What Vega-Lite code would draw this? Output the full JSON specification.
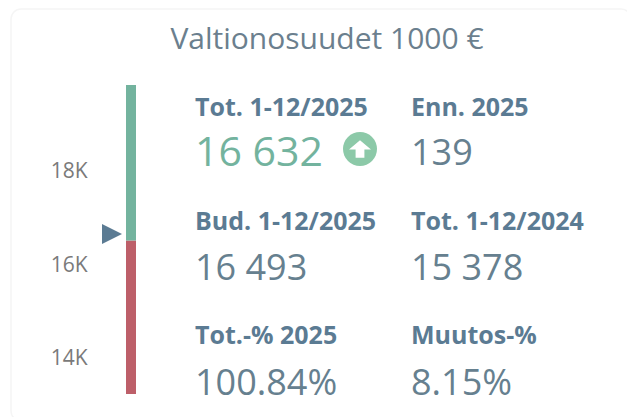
{"$schema":"https://vega.github.io/schema/vega-lite/v6.json","width":620,"height":412,"autosize":"none","padding":{"left":11,"top":9,"right":0,"bottom":0},"background":"white","view":{"stroke":"#f5f5f5","strokeWidth":1.5,"cornerRadius":10,"fill":"white"},"title":{"text":"Valtionosuudet 1000 €","anchor":"middle","font":"Open Sans","fontSize":30,"fontWeight":"normal","color":"#6b7f8e","dy":76,"dx":6,"offset":0,"baseline":"bottom"},"datasets":{"gauge":[{"band":"below","track":"bar","from":13209,"to":16493},{"band":"above","track":"bar","from":16493,"to":19818}],"marker":[{"track":"marker","total":16632}],"kpi":[{"label":"Tot. 1-12/2025","value":"16 632","col":"left","row":"r1","status":"good"},{"label":"Enn. 2025","value":"139","col":"right","row":"r1","status":"plain"},{"label":"Bud. 1-12/2025","value":"16 493","col":"left","row":"r2","status":"plain"},{"label":"Tot. 1-12/2024","value":"15 378","col":"right","row":"r2","status":"plain"},{"label":"Tot.-% 2025","value":"100.84%","col":"left","row":"r3","status":"plain"},{"label":"Muutos-%","value":"8.15%","col":"right","row":"r3","status":"plain"}]},"resolve":{"scale":{"x":"independent","y":"independent","color":"independent","size":"independent"},"axis":{"x":"independent","y":"independent"}},"layer":[{"data":{"name":"gauge"},"mark":{"type":"bar","width":10},"encoding":{"x":{"field":"track","type":"nominal","axis":null,"scale":{"type":"point","padding":0,"domain":["marker","bar"],"range":[100,120]}},"y":{"field":"from","type":"quantitative","scale":{"domain":[12631,21444],"nice":false,"zero":false},"axis":{"values":[14000,16000,18000],"labelExpr":"(datum.value/1000)+'K'","title":null,"domain":false,"ticks":false,"grid":false,"offset":-76,"labelPadding":0,"labelOffset":1.5,"labelFont":"Open Sans","labelFontSize":21,"labelColor":"#7a7a7a"}},"y2":{"field":"to"},"color":{"field":"band","type":"nominal","legend":null,"scale":{"domain":["above","below"],"range":["#73b39e","#bd5f69"]}}}},{"data":{"name":"marker"},"mark":{"type":"point","filled":true,"opacity":1,"size":400,"shape":"M-1,-1 L1,0 L-1,1 Z","color":"#5b7b93"},"encoding":{"x":{"field":"track","type":"nominal","axis":null,"scale":{"type":"point","padding":0,"domain":["marker","bar"],"range":[101,120]}},"y":{"field":"total","type":"quantitative","axis":null,"scale":{"domain":[12631,21444],"nice":false,"zero":false}}}},{"data":{"name":"kpi"},"mark":{"type":"text","align":"left","baseline":"middle","font":"Open Sans","fontSize":25,"fontWeight":"bold","color":"#5b7b93"},"encoding":{"x":{"field":"col","type":"nominal","axis":null,"scale":{"type":"point","padding":0,"domain":["left","right"],"range":[184,400]}},"y":{"field":"row","type":"nominal","axis":null,"scale":{"type":"point","padding":0,"domain":["r1","r2","r3"],"range":[99,327]}},"text":{"field":"label"}}},{"data":{"name":"kpi"},"mark":{"type":"text","align":"left","baseline":"middle","font":"Open Sans"},"encoding":{"x":{"field":"col","type":"nominal","axis":null,"scale":{"type":"point","padding":0,"domain":["left","right"],"range":[184,400]}},"y":{"field":"row","type":"nominal","axis":null,"scale":{"type":"point","padding":0,"domain":["r1","r2","r3"],"range":[145,375]}},"text":{"field":"value"},"size":{"field":"status","type":"nominal","legend":null,"scale":{"type":"ordinal","domain":["good","plain"],"range":[41,36]}},"color":{"field":"status","type":"nominal","legend":null,"scale":{"domain":["good","plain"],"range":["#73b39e","#66808f"]}}}},{"data":{"name":"kpi"},"transform":[{"filter":"datum.status==='good'"}],"mark":{"type":"point","filled":true,"opacity":1,"shape":"circle","size":1156,"color":"#8cc9a8","xOffset":165,"yOffset":-5},"encoding":{"x":{"field":"col","type":"nominal","axis":null,"scale":{"type":"point","padding":0,"domain":["left","right"],"range":[184,400]}},"y":{"field":"row","type":"nominal","axis":null,"scale":{"type":"point","padding":0,"domain":["r1","r2","r3"],"range":[145,375]}}}},{"data":{"name":"kpi"},"transform":[{"filter":"datum.status==='good'"}],"mark":{"type":"point","filled":true,"opacity":1,"shape":"M0,-0.8 L1,0.05 L0.4,0.05 L0.4,0.8 L-0.4,0.8 L-0.4,0.05 L-1,0.05 Z","size":484,"color":"white","xOffset":165,"yOffset":-5},"encoding":{"x":{"field":"col","type":"nominal","axis":null,"scale":{"type":"point","padding":0,"domain":["left","right"],"range":[184,400]}},"y":{"field":"row","type":"nominal","axis":null,"scale":{"type":"point","padding":0,"domain":["r1","r2","r3"],"range":[145,375]}}}}]}
